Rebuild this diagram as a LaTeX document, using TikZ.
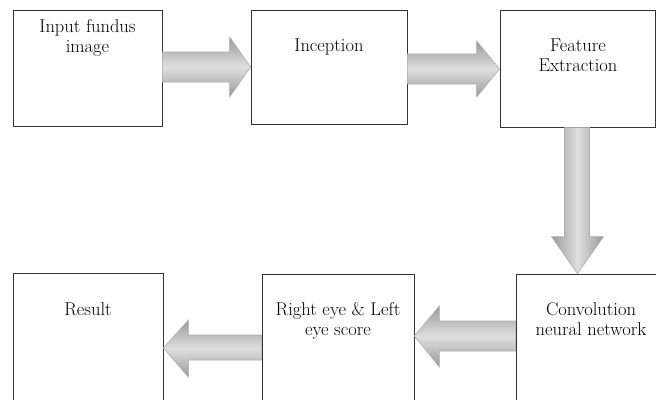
\documentclass[tikz,border=0pt]{standalone}
\usetikzlibrary{calc}
\begin{document}
\begin{tikzpicture}[x=1pt,y=-1pt,
  box/.style={draw=black!80, line width=0.8pt, fill=white, inner sep=0pt},
  txt/.style={font=\fontsize{18.5}{20}\selectfont, align=center, inner sep=0pt, anchor=north, text=black},
  harrow/.style={draw=gray!65, line width=0.6pt, top color=gray!80, bottom color=gray!80, middle color=gray!25},
  varrow/.style={draw=gray!65, line width=0.6pt, left color=gray!80, right color=gray!80, middle color=gray!25}]
\useasboundingbox (0,0) rectangle (656,399);
\clip (0,0) rectangle (656,399);
% boxes
\node[box, minimum width=149pt, minimum height=116pt] (b1) at (87.5,68) {};
\node[box, minimum width=156pt, minimum height=114pt] (b2) at (329,67) {};
\node[box, minimum width=155pt, minimum height=117pt] (b3) at (577.5,68.5) {};
\node[box, minimum width=164pt, minimum height=146pt] (b4) at (598,347) {};
\node[box, minimum width=152pt, minimum height=146pt] (b5) at (338,347) {};
\node[box, minimum width=150pt, minimum height=147pt] (b6) at (88,346.5) {};
% texts
\node[txt] (t1) at (87.5,19) {Input fundus\\image};
\node[txt] (t2) at (329,38.5) {Inception};
\node[txt] (t3) at (578,38.5) {Feature\\Extraction};
\node[txt] (t4) at (591,302.5) {Convolution\\neural network};
\node[txt] (t5) at (338,302.5) {Right eye \& Left\\eye score};
\node[txt] (t6) at (88,302.5) {Result};
% arrows
\coordinate (a1) at (b1.east |- 0,67);
\coordinate (a2) at (b2.west |- 0,67);
\draw[harrow] ($(a1)+(0,-15)$) -- ($(a2)+(-21,-15)$) -- ($(a2)+(-21,-30)$)
  -- (a2) -- ($(a2)+(-21,30)$) -- ($(a2)+(-21,15)$) -- ($(a1)+(0,15)$) -- cycle;
\coordinate (a3) at (b2.east |- 0,69);
\coordinate (a4) at (b3.west |- 0,69);
\draw[harrow] ($(a3)+(0,-15)$) -- ($(a4)+(-23,-15)$) -- ($(a4)+(-23,-28)$)
  -- (a4) -- ($(a4)+(-23,28)$) -- ($(a4)+(-23,15)$) -- ($(a3)+(0,15)$) -- cycle;
\coordinate (v1) at (b3.south);
\coordinate (v2) at (b3.south |- b4.north);
\draw[varrow] ($(v1)+(-13,0)$) -- ($(v2)+(-13,-37)$) -- ($(v2)+(-26,-37)$)
  -- (v2) -- ($(v2)+(26,-37)$) -- ($(v2)+(12,-37)$) -- ($(v1)+(12,0)$) -- cycle;
\coordinate (h1) at (b4.west |- 0,336);
\coordinate (h2) at (b5.east |- 0,336);
\draw[harrow] ($(h1)+(0,-15)$) -- ($(h2)+(25,-15)$) -- ($(h2)+(25,-30)$)
  -- (h2) -- ($(h2)+(25,31)$) -- ($(h2)+(25,15)$) -- ($(h1)+(0,15)$) -- cycle;
\coordinate (h3) at (b5.west |- 0,348);
\coordinate (h4) at (b6.east |- 0,348);
\draw[harrow] ($(h3)+(0,-13)$) -- ($(h4)+(25,-13)$) -- ($(h4)+(25,-28)$)
  -- (h4) -- ($(h4)+(25,29)$) -- ($(h4)+(25,12)$) -- ($(h3)+(0,12)$) -- cycle;
\end{tikzpicture}
\end{document}
